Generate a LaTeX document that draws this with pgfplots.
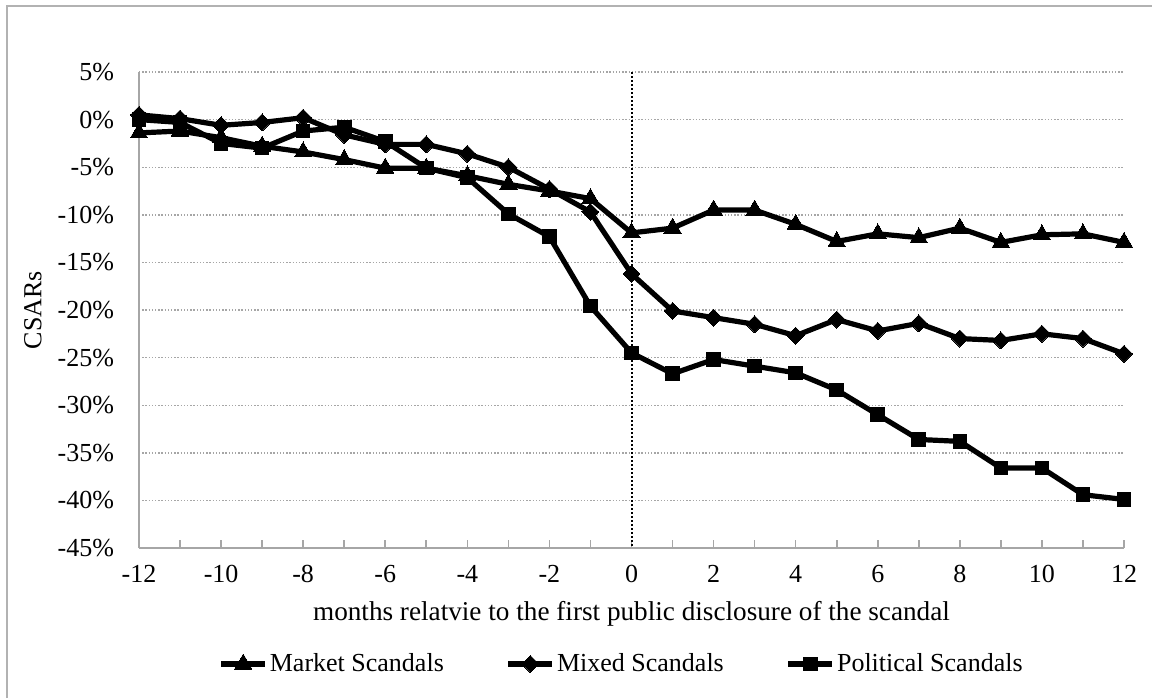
\documentclass[border=0pt]{standalone}
\usepackage{fontspec}
\setmainfont{Liberation Serif}
\usepackage{pgfplots}
\pgfplotsset{compat=1.18}
\begin{document}
\fontsize{13}{15.6}\selectfont
\begin{tikzpicture}
\useasboundingbox (0,0) rectangle (576pt,349pt);
\draw[gray!60, line width=1pt] (3.5pt,0) -- (3.5pt,346pt) -- (576pt,346pt);
\begin{axis}[
  at={(69.5pt,75pt)}, anchor=south west,
  scale only axis, width=492.5pt, height=238pt,
  xmin=-12, xmax=12, ymin=-45, ymax=5,
  axis x line*=bottom, axis y line*=left,
  axis line style={gray!70, line width=0.8pt, -},
  xtick={-12,-10,...,12}, minor xtick={-11,-9,...,11},
  tick align=inside,
  major tick length=4pt, minor tick length=4pt,
  x tick style={gray!70, line width=0.8pt},
  y tick style={draw=none},
  ytick={-45,-40,...,5},
  yticklabel={\pgfmathprintnumber{\tick}\%},
  /pgf/number format/assume math mode=true,
  yticklabel style={xshift=-8pt},
  xticklabel style={yshift=-4pt},
  ymajorgrids,
  major grid style={gray!70, line width=0.7pt, dash pattern=on 0.7pt off 0.9pt},
  xlabel={\fontsize{13.6}{16}\selectfont months relatvie to the first public disclosure of the scandal},
  ylabel={CSARs},
  every axis x label/.style={at={(axis description cs:0.5,-0.1387)}, anchor=center},
  every axis y label/.style={at={(axis description cs:-0.1076,0.5)}, anchor=center, rotate=90},
  legend columns=3,
  legend style={draw=none, fill=none, at={(axis description cs:0.49,-0.2437)}, anchor=center,
    /tikz/every even column/.append style={column sep=30pt},
    nodes={inner xsep=1pt}},
  legend image code/.code={\draw[mark repeat=2,mark phase=2] plot coordinates {(0pt,0pt) (11pt,0pt) (22pt,0pt)};},
  every axis plot/.append style={black, line width=2.6pt, line join=round},
]
\draw[black, line width=1pt, dash pattern=on 1pt off 1pt] (axis cs:0,5) -- (axis cs:0,-45);
\addplot[mark=triangle*, mark size=5pt, mark options={solid, line width=0pt}] coordinates {
(-12,-1.4) (-11,-1.2) (-10,-1.9) (-9,-2.8) (-8,-3.4) (-7,-4.2) (-6,-5.1) (-5,-5.1) (-4,-5.9) (-3,-6.8) (-2,-7.5) (-1,-8.3) (0,-11.9) (1,-11.4) (2,-9.5) (3,-9.5) (4,-11.0) (5,-12.8) (6,-12.0) (7,-12.4) (8,-11.4) (9,-12.9) (10,-12.1) (11,-12.0) (12,-12.9)};
\addlegendentry{Market Scandals}
\addplot[mark=square*, mark size=3pt, mark options={solid, rotate=45, line width=0pt}] coordinates {
(-12,0.5) (-11,0.1) (-10,-0.6) (-9,-0.3) (-8,0.2) (-7,-1.6) (-6,-2.6) (-5,-2.6) (-4,-3.6) (-3,-5.0) (-2,-7.3) (-1,-9.7) (0,-16.2) (1,-20.1) (2,-20.8) (3,-21.5) (4,-22.7) (5,-21.0) (6,-22.2) (7,-21.4) (8,-23.0) (9,-23.2) (10,-22.5) (11,-23.0) (12,-24.6)};
\addlegendentry{Mixed Scandals}
\addplot[mark=square*, mark size=3.4pt, mark options={solid, line width=0pt}] coordinates {
(-12,0.0) (-11,-0.3) (-10,-2.5) (-9,-3.0) (-8,-1.2) (-7,-0.8) (-6,-2.3) (-5,-5.1) (-4,-6.1) (-3,-9.9) (-2,-12.3) (-1,-19.6) (0,-24.5) (1,-26.7) (2,-25.2) (3,-25.9) (4,-26.6) (5,-28.4) (6,-31.0) (7,-33.6) (8,-33.8) (9,-36.6) (10,-36.6) (11,-39.4) (12,-39.9)};
\addlegendentry{Political Scandals}
\end{axis}
\end{tikzpicture}
\end{document}
